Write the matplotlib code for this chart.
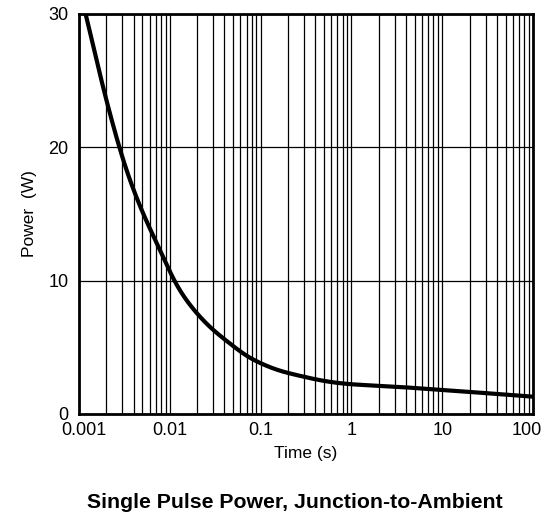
import matplotlib.pyplot as plt
import numpy as np
from matplotlib.ticker import FixedLocator, LogLocator, NullFormatter
from matplotlib.transforms import ScaledTranslation

plt.rcParams['font.family'] = ['Liberation Sans', 'DejaVu Sans']

# single pulse power curve
time_s = [0.001186, 0.00146, 0.00173, 0.00223, 0.00276, 0.00557, 0.00687,
          0.00848, 0.0109, 0.01667, 0.0224, 0.0301, 0.046, 0.0703, 0.107,
          0.164, 0.229, 0.534, 0.90, 2.89, 9.46, 31.0, 100.0]
power_w = [30.0, 27.5, 25.0, 22.4, 19.9, 14.36, 13.09,
           11.83, 10.0, 8.15, 7.12, 6.27, 5.29, 4.32, 3.71,
           3.22, 2.98, 2.44, 2.25, 2.06, 1.81, 1.56, 1.30]

x_ticks = [0.001, 0.01, 0.1, 1, 10, 100]
x_labels = ['0.001', '0.01', '0.1', '1', '10', '100']
y_ticks = [0, 10, 20, 30]


def pchip(xk, yk, xs):
    # monotone cubic hermite, straight-line extension past the ends
    xk, yk = np.asarray(xk), np.asarray(yk)
    h = np.diff(xk)
    d = np.diff(yk) / h
    m = np.zeros_like(yk)
    m[0], m[-1] = d[0], d[-1]
    for i in range(1, len(xk) - 1):
        if d[i - 1] * d[i] > 0:
            w1 = 2 * h[i] + h[i - 1]
            w2 = h[i] + 2 * h[i - 1]
            m[i] = (w1 + w2) / (w1 / d[i - 1] + w2 / d[i])
    xc = np.clip(xs, xk[0], xk[-1])
    idx = np.clip(np.searchsorted(xk, xc) - 1, 0, len(h) - 1)
    t = (xc - xk[idx]) / h[idx]
    h00 = 2 * t**3 - 3 * t**2 + 1
    h10 = t**3 - 2 * t**2 + t
    h01 = -2 * t**3 + 3 * t**2
    h11 = t**3 - t**2
    out = (h00 * yk[idx] + h10 * h[idx] * m[idx]
           + h01 * yk[idx + 1] + h11 * h[idx] * m[idx + 1])
    out = np.where(xs < xk[0], yk[0] + m[0] * (xs - xk[0]), out)
    out = np.where(xs > xk[-1], yk[-1] + m[-1] * (xs - xk[-1]), out)
    return out


fig = plt.figure(figsize=(5.52, 5.14), dpi=100)
ax = fig.add_axes([79 / 552, 1 - 414 / 514, 454 / 552, 400 / 514])

# resample in log-time, then gaussian smoothing to iron out reading jitter
lt = np.log10(time_s)
step = 0.005
fine = np.arange(lt[0] - 0.5, lt[-1] + 0.5 + step, step)
vals = pchip(lt, power_w, fine)
sig = 0.09
k = np.arange(-4 * sig, 4 * sig + step, step)
kern = np.exp(-0.5 * (k / sig) ** 2)
kern /= kern.sum()
smooth = np.convolve(vals, kern, mode='same')
keep = (fine >= lt[0] - 0.1) & (fine <= lt[-1] + 0.05)
ax.plot(10 ** fine[keep], smooth[keep], color='black', lw=3.0,
        solid_capstyle='butt', zorder=3)

ax.set_xscale('log')
ax.set_xlim(0.001, 100)
ax.set_ylim(0, 30)
ax.xaxis.set_major_locator(FixedLocator(x_ticks))
ax.set_xticklabels(x_labels)
ax.xaxis.set_minor_locator(LogLocator(base=10, subs=np.arange(2, 10)))
ax.xaxis.set_minor_formatter(NullFormatter())
ax.set_yticks(y_ticks)
ax.tick_params(which='both', length=0, labelsize=13)
ax.tick_params(axis='y', pad=7.5)
ax.tick_params(axis='x', pad=6)

# end labels sit a little inside the frame
xl = ax.get_xticklabels()
xl[0].set_transform(xl[0].get_transform() + ScaledTranslation(0.05, 0, fig.dpi_scale_trans))
xl[-1].set_transform(xl[-1].get_transform() + ScaledTranslation(-0.06, 0, fig.dpi_scale_trans))

ax.grid(True, which='both', axis='x', color='black', lw=0.9)
ax.grid(True, which='major', axis='y', color='black', lw=0.9)
for s in ax.spines.values():
    s.set_linewidth(2.0)

ax.set_xlabel('Time (s)', fontsize=12.5, labelpad=5)
ax.set_ylabel('Power  (W)', fontsize=12.5, labelpad=8)
fig.text(294.5 / 552, 1 - 503 / 514, 'Single Pulse Power, Junction-to-Ambient',
         ha='center', va='center', fontsize=15.3, fontweight='bold')

fig.savefig('out.png', dpi=100)
